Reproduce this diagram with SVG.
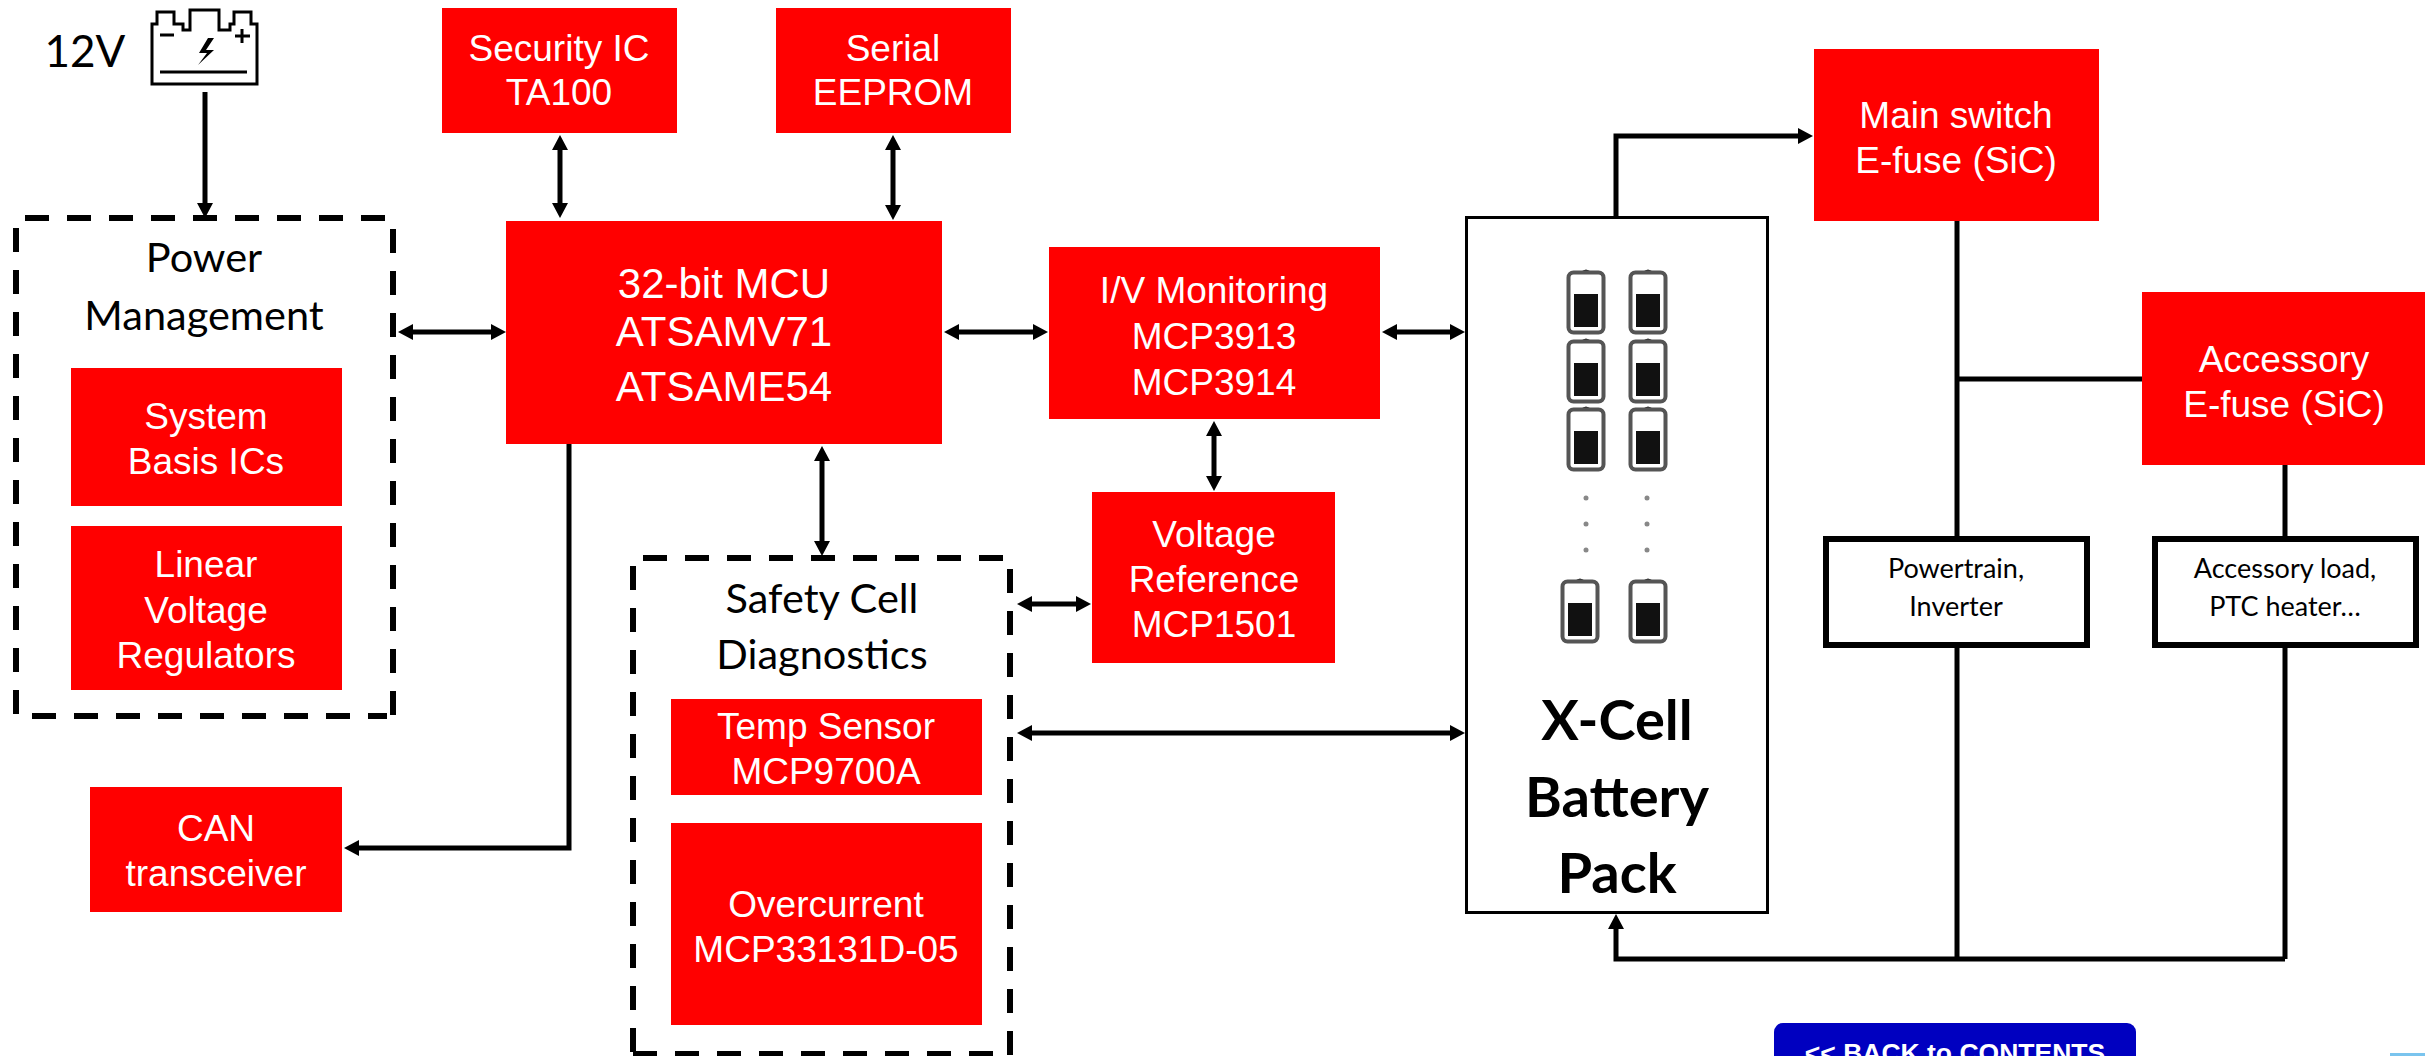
<svg xmlns="http://www.w3.org/2000/svg" width="2425" height="1056" viewBox="0 0 2425 1056">
<style>
.r{fill:#f00}
.w{fill:#fff;font-family:"Liberation Sans",Arial,sans-serif;font-size:37px;text-anchor:middle}
.k{fill:#000;font-family:Lato,"Open Sans",sans-serif;font-size:41.5px;text-anchor:middle}
.d{fill:none;stroke:#000;stroke-width:6;stroke-dasharray:24 18}
.c{fill:none;stroke:#000;stroke-width:5}
.a{marker-end:url(#h)}
.b{marker-start:url(#h);marker-end:url(#h)}
.s{fill:none;stroke:#000;stroke-width:3}
</style>
<defs>
<marker id="h" markerUnits="userSpaceOnUse" markerWidth="18" markerHeight="18" refX="1" refY="9" orient="auto-start-reverse" viewBox="0 0 18 18"><path d="M0,1 L15,9 L0,17 z" fill="#000"/></marker>
<g id="cell"><path d="M-6,2 q6,-7 12,0 z" fill="#222"/><rect x="-17.500" y="1.500" width="35" height="60" rx="5" fill="#fff" stroke="#555" stroke-width="4"/><rect x="-12" y="23" width="24" height="33" fill="#111"/></g>
</defs>
<rect width="2425" height="1056" fill="#fff"/>
<g id="connectors">
<path class="c a" d="M205,92 V204"/>
<path class="c b" d="M560,149 V204"/>
<path class="c b" d="M893,149 V206"/>
<path class="c b" d="M412,332 H492"/>
<path class="c b" d="M958,332 H1034"/>
<path class="c b" d="M1396,332 H1451"/>
<path class="c b" d="M1214,435 V477"/>
<path class="c b" d="M822,460 V542"/>
<path class="c b" d="M1031,604 H1077"/>
<path class="c b" d="M1031,733 H1451"/>
<path class="c a" d="M569,444 V848 H358"/>
<path class="c a" d="M1616,217 V136 H1799"/>
<path class="c" stroke-width="6" d="M1957,221 V538 M1957,645 V959 M1957,379 H2142 M2285,465 V538 M2285,645 V959"/>
<path class="c a" d="M2285,959 H1616 V928"/>
</g>
<g id="battery12v">
<text x="85" y="67" class="k" font-size="44" style="font-size:44px">12V</text>
<path class="s" d="M152,84 V24 H157 V12 H174 V24 H183 V30 H190 V10 H219 V30 H230 V24 H234 V12 H251 V24 H257 V84 Z"/>
<path class="s" d="M160,35 H174 M235,36 H250 M242,29 V43 M160,72 H247"/>
<path d="M208,38 L199,53 H207 L198,65 L214,50 H206 L214,38 Z" fill="#000"/>
</g>
<g id="security-ic"><rect class="r" x="442" y="8" width="235" height="125"/><text class="w" x="559" y="61">Security IC</text><text class="w" x="559" y="105">TA100</text></g>
<g id="serial-eeprom"><rect class="r" x="776" y="8" width="235" height="125"/><text class="w" x="893" y="61">Serial</text><text class="w" x="893" y="105">EEPROM</text></g>
<g id="power-management">
<path class="d" d="M25,218 H387 M16,228 V716 H387 M393,229 V716"/>
<text class="k" x="204" y="272">Power</text><text class="k" x="204" y="330">Management</text>
</g>
<g id="system-basis"><rect class="r" x="71" y="368" width="271" height="138"/><text class="w" x="206" y="429">System</text><text class="w" x="206" y="474">Basis ICs</text></g>
<g id="linear-regulators"><rect class="r" x="71" y="526" width="271" height="164"/><text class="w" x="206" y="577">Linear</text><text class="w" x="206" y="623">Voltage</text><text class="w" x="206" y="668">Regulators</text></g>
<g id="can"><rect class="r" x="90" y="787" width="252" height="125"/><text class="w" x="216" y="841">CAN</text><text class="w" x="216" y="886">transceiver</text></g>
<g id="mcu"><rect class="r" x="506" y="221" width="436" height="223"/><text class="w" style="font-size:42px" x="724" y="298">32-bit MCU</text><text class="w" style="font-size:42px" x="724" y="346">ATSAMV71</text><text class="w" style="font-size:42px" x="724" y="401">ATSAME54</text></g>
<g id="iv-monitoring"><rect class="r" x="1049" y="247" width="331" height="172"/><text class="w" x="1214" y="303">I/V Monitoring</text><text class="w" x="1214" y="349">MCP3913</text><text class="w" x="1214" y="395">MCP3914</text></g>
<g id="voltage-reference"><rect class="r" x="1092" y="492" width="243" height="171"/><text class="w" x="1214" y="547">Voltage</text><text class="w" x="1214" y="592">Reference</text><text class="w" x="1214" y="637">MCP1501</text></g>
<g id="safety-cell">
<path class="d" d="M643,558 H1004 M633,566 V1054 M1010,569 V1056 M633,1054 H1004"/>
<text class="k" x="822" y="613">Safety Cell</text><text class="k" x="822" y="669">Diagnostics</text>
</g>
<g id="temp-sensor"><rect class="r" x="671" y="699" width="311" height="96"/><text class="w" x="826" y="739">Temp Sensor</text><text class="w" x="826" y="784">MCP9700A</text></g>
<g id="overcurrent"><rect class="r" x="671" y="823" width="311" height="202"/><text class="w" x="826" y="917">Overcurrent</text><text class="w" x="826" y="962">MCP33131D-05</text></g>
<g id="battery-pack">
<rect x="1466.500" y="217.500" width="301" height="695" fill="#fff" stroke="#000" stroke-width="3"/>
<use href="#cell" x="1586" y="271"/><use href="#cell" x="1648" y="271"/>
<use href="#cell" x="1586" y="340"/><use href="#cell" x="1648" y="340"/>
<use href="#cell" x="1586" y="408"/><use href="#cell" x="1648" y="408"/>
<use href="#cell" x="1580" y="580"/><use href="#cell" x="1648" y="580"/>
<g fill="#888"><circle cx="1586" cy="498" r="2.500"/><circle cx="1586" cy="524" r="2.500"/><circle cx="1586" cy="550" r="2.500"/><circle cx="1647" cy="498" r="2.500"/><circle cx="1647" cy="524" r="2.500"/><circle cx="1647" cy="550" r="2.500"/></g>
<g font-family="Lato,'Open Sans',sans-serif" font-weight="700" font-size="56" text-anchor="middle" fill="#000"><text x="1617" y="740">X-Cell</text><text x="1617" y="817">Battery</text><text x="1617" y="893">Pack</text></g>
</g>
<g id="main-switch"><rect class="r" x="1814" y="49" width="285" height="172"/><text class="w" x="1956" y="128">Main switch</text><text class="w" x="1956" y="173">E-fuse (SiC)</text></g>
<g id="accessory"><rect class="r" x="2142" y="292" width="283" height="173"/><text class="w" x="2284" y="372">Accessory</text><text class="w" x="2284" y="417">E-fuse (SiC)</text></g>
<g id="powertrain"><rect x="1826" y="539" width="261" height="106" fill="#fff" stroke="#000" stroke-width="6"/><g font-family="Lato,'Open Sans',sans-serif" font-size="27" text-anchor="middle"><text x="1956" y="578">Powertrain,</text><text x="1956" y="616">Inverter</text></g></g>
<g id="accessory-load"><rect x="2155" y="539" width="261" height="106" fill="#fff" stroke="#000" stroke-width="6"/><g font-family="Lato,'Open Sans',sans-serif" font-size="27" text-anchor="middle"><text x="2285" y="578">Accessory load,</text><text x="2285" y="616">PTC heater…</text></g></g>
<g id="back-to-contents"><rect x="1774" y="1023" width="362" height="50" rx="9" fill="#0000c0"/><text x="1955" y="1062" font-family="'Liberation Sans',Arial,sans-serif" font-weight="700" font-size="26.500" fill="#fff" text-anchor="middle">&lt;&lt; BACK to CONTENTS</text></g>
<rect id="corner-tab" x="2390" y="1053" width="35" height="3" fill="#7ac4ee"/>
</svg>
